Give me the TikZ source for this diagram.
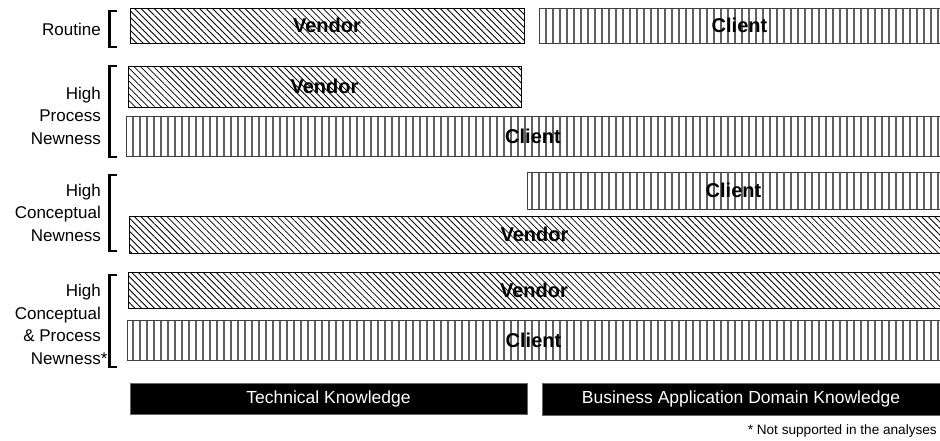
\documentclass[tikz,border=0pt]{standalone}
\usepackage{fontspec}
\setmainfont{Liberation Sans}
\usetikzlibrary{patterns.meta}

\tikzset{
  bar/.style={anchor=north west, inner sep=0pt, outer sep=0pt},
  vendorbar/.style={bar, draw=black, line width=0.9pt,
    pattern={Lines[angle=-45,distance=4.6pt,line width=0.8pt]}, pattern color=black,
    font=\fontsize{20}{24}\selectfont\bfseries},
  clientbar/.style={bar, draw=black!75, line width=0.9pt,
    pattern={Lines[angle=90,distance=7pt,line width=1.3pt]}, pattern color=black!62,
    font=\fontsize{20}{24}\selectfont\bfseries},
  knowbar/.style={bar, fill=black, draw=black!60, line width=0.6pt, text=white,
    font=\fontsize{17.5}{21}\selectfont},
  % multi-line labels: the base anchor sits on the last line
  rowlabel/.style={anchor=base east, align=right, inner sep=0pt,
    font=\fontsize{17}{22.5}\selectfont},
  brace/.style={line width=2.4pt, line cap=butt, line join=miter},
}

\begin{document}
\begin{tikzpicture}[x=1pt, y=-1pt]
  \useasboundingbox (0,0) rectangle (940,440);

  % row labels
  \node[rowlabel] (lRoutine) at (101,35) {Routine};
  \node[rowlabel] (lProcess) at (101,144) {High\\Process\\Newness};
  \node[rowlabel] (lConcept) at (101,241) {High\\Conceptual\\Newness};
  \node[rowlabel] (lBoth) at (101,364) {High\\Conceptual\\\& Process\\Newness\rlap{*}};

  % brackets grouping each row
  \draw[brace] (117,11) -- (109.5,11) -- (109.5,47) -- (117,47);
  \draw[brace] (117,66) -- (109.5,66) -- (109.5,157) -- (117,157);
  \draw[brace] (117,175) -- (109.5,175) -- (109.5,251) -- (117,251);
  \draw[brace] (117,275) -- (109.5,275) -- (109.5,367) -- (117,367);

  % routine
  \node[vendorbar, minimum width=394pt, minimum height=35pt] (rV) at (130,8) {Vendor};
  \node[clientbar, minimum width=401pt, minimum height=35pt] (rC) at (539,8) {Client};

  % high process newness
  \node[vendorbar, minimum width=393pt, minimum height=41pt] (pV) at (128,66) {Vendor};
  \node[clientbar, minimum width=814pt, minimum height=40pt] (pC) at (126,116) {Client};

  % high conceptual newness
  \node[clientbar, minimum width=413pt, minimum height=37pt] (cC) at (527,172) {Client};
  \node[vendorbar, minimum width=811pt, minimum height=37pt] (cV) at (129,216) {Vendor};

  % high conceptual & process newness
  \node[vendorbar, minimum width=812pt, minimum height=36pt] (bV) at (128,272) {Vendor};
  \node[clientbar, minimum width=813pt, minimum height=40pt] (bC) at (127,320) {Client};

  % knowledge domains
  \node[knowbar, minimum width=397pt, minimum height=31pt] (tech) at (130,383) {Technical Knowledge};
  \node[knowbar, minimum width=398pt, minimum height=32pt] (bus) at (542,383) {Business Application Domain Knowledge};

  % footnote
  \node[anchor=base east, inner sep=0pt, font=\fontsize{13.6}{16}\selectfont] (note) at (937,434)
    {* Not supported in the analyses};
\end{tikzpicture}
\end{document}
